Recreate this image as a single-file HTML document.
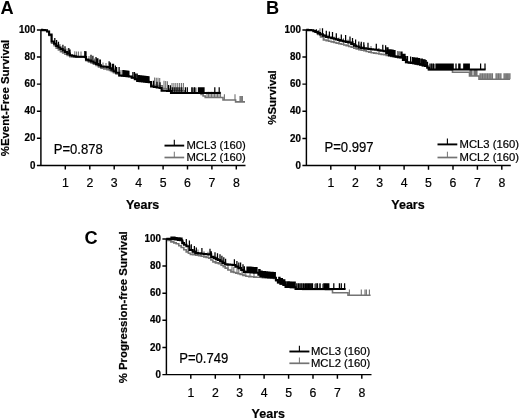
<!DOCTYPE html>
<html><head><meta charset="utf-8"><title>Figure</title>
<style>
html,body{margin:0;padding:0;background:#fff;}
svg{display:block;}
text{font-family:"Liberation Sans",sans-serif;fill:#000;stroke:#000;stroke-width:0.2px;}
.yt{font-size:9.8px;font-weight:bold;text-anchor:end;}
.xt{font-size:12.3px;text-anchor:middle;}
.yr{font-size:12.5px;font-weight:bold;text-anchor:middle;}
.yl{font-size:11.4px;font-weight:bold;text-anchor:middle;}
.pv{font-size:13.1px;}
.lg{font-size:11.1px;}
.pl{font-size:18.2px;font-weight:bold;stroke-width:0;}
</style></head><body>
<svg width="520" height="419" viewBox="0 0 520 419">
<rect width="520" height="419" fill="#fff"/>
<path d="M41.0,29.8 L42.2,29.8 L42.2,30.1 L44.8,30.1 L44.8,30.3 L46.0,30.3 L47.0,30.3 L47.0,31.5 L48.0,31.5 L49.1,31.5 L49.1,35.5 L50.3,35.5 L51.6,35.5 L51.6,43.3 L53.0,43.3 L54.1,43.3 L54.1,45.7 L56.2,45.7 L56.2,48.1 L57.3,48.1 L58.4,48.1 L58.4,49.9 L60.5,49.9 L60.5,51.6 L61.6,51.6 L62.7,51.6 L62.7,52.9 L64.9,52.9 L64.9,54.2 L66.0,54.2 L67.2,54.2 L67.2,55.5 L69.8,55.5 L69.8,56.8 L71.0,56.8 L72.0,56.8 L72.0,57.0 L74.2,57.0 L74.2,57.1 L76.2,57.1 L76.2,57.3 L77.3,57.3 L84.8,57.3 L84.8,57.5 L86.0,57.5 L86.0,60.8 L87.3,60.8 L88.5,60.8 L88.5,61.9 L91.0,61.9 L91.0,63.0 L92.3,63.0 L93.5,63.0 L93.5,64.2 L96.0,64.2 L96.0,65.5 L97.3,65.5 L98.5,65.5 L98.5,66.9 L101.0,66.9 L101.0,68.3 L102.3,68.3 L103.8,68.3 L103.8,68.9 L107.0,68.9 L107.0,69.6 L108.5,69.6 L109.5,69.6 L109.5,70.5 L111.3,70.5 L111.3,71.5 L112.3,71.5 L113.5,71.5 L113.5,72.8 L116.0,72.8 L116.0,74.0 L117.3,74.0 L119.2,74.0 L119.2,75.8 L121.0,75.8 L122.1,75.8 L122.1,76.0 L124.3,76.0 L124.3,76.2 L126.5,76.2 L126.5,76.3 L128.7,76.3 L128.7,76.5 L129.8,76.5 L131.7,76.5 L131.7,77.8 L133.5,77.8 L134.8,77.8 L134.8,79.2 L137.2,79.2 L137.2,80.5 L138.5,80.5 L139.6,80.5 L139.6,80.8 L141.9,80.8 L141.9,81.1 L144.2,81.1 L144.2,81.5 L146.4,81.5 L146.4,81.8 L148.7,81.8 L148.7,82.1 L149.8,82.1 L151.1,82.1 L151.1,85.2 L152.3,85.2 L153.5,85.2 L153.5,85.3 L155.8,85.3 L155.8,85.5 L158.1,85.5 L158.1,85.7 L160.3,85.7 L160.3,85.8 L161.5,85.8 L162.2,85.8 L162.2,88.5 L163.0,88.5 L164.4,88.5 L164.4,88.8 L167.1,88.8 L167.1,89.0 L168.5,89.0 L169.8,89.0 L169.8,90.7 L171.0,90.7 L183.5,90.7 L183.5,90.9 L184.2,90.9 L184.2,93.2 L185.0,93.2 L200.0,93.2 L200.0,93.3 L201.0,93.3 L201.0,94.4 L202.0,94.4 L203.1,94.4 L203.1,96.0 L205.2,96.0 L205.2,97.5 L206.3,97.5 L222.5,97.5 L222.5,97.5 L223.0,97.5 L223.0,100.0 L235.0,100.0 L235.0,100.0 L235.6,100.0 L235.6,101.9 L245.0,101.9 L245.0,101.9" fill="none" stroke="#737373" stroke-width="1.6"/>
<path d="M60.0,49.9V44.1M67.0,54.2V48.4M74.8,57.1V51.3M76.6,57.3V51.5M78.5,57.3V51.5M81.0,57.3V51.5M89.0,61.9V56.1M94.5,64.2V58.5M103.0,68.3V62.5M106.0,68.9V63.1M121.0,75.8V70.0M191.6,93.2V87.4M192.7,93.2V87.4M193.8,93.2V87.4M194.9,93.2V87.4M196.0,93.2V87.4M207.0,97.5V91.7M208.5,97.5V91.7M210.0,97.5V91.7M211.5,97.5V91.7M213.0,97.5V91.7M214.5,97.5V91.7M216.0,97.5V91.7M217.5,97.5V91.7M219.0,97.5V91.7M220.5,97.5V91.7M224.4,100.0V94.2M235.0,100.0V94.2M240.0,101.9V96.1M241.2,101.9V96.1M242.4,101.9V96.1M154.6,85.3V77.5M156.3,85.5V77.7M158.0,85.5V77.7M159.7,85.7V77.9M164.0,88.5V80.7M165.7,88.8V81.0M167.4,89.0V81.2M172.0,90.7V82.9M173.9,90.7V82.9M175.8,90.7V82.9M177.7,90.7V82.9M179.6,90.7V82.9M181.5,90.7V82.9M183.4,90.7V82.9" stroke="#737373" stroke-width="1.1" fill="none"/>
<path d="M41.0,29.8 L42.2,29.8 L42.2,30.1 L44.8,30.1 L44.8,30.3 L46.0,30.3 L47.0,30.3 L47.0,31.5 L48.0,31.5 L49.1,31.5 L49.1,34.6 L50.3,34.6 L51.6,34.6 L51.6,41.5 L53.0,41.5 L54.1,41.5 L54.1,43.7 L56.2,43.7 L56.2,45.9 L57.3,45.9 L58.4,45.9 L58.4,47.5 L60.5,47.5 L60.5,49.0 L61.6,49.0 L62.7,49.0 L62.7,50.5 L64.9,50.5 L64.9,52.0 L66.0,52.0 L67.2,52.0 L67.2,53.6 L69.8,53.6 L69.8,55.3 L71.0,55.3 L72.0,55.3 L72.0,55.8 L74.2,55.8 L74.2,56.3 L76.2,56.3 L76.2,56.8 L77.3,56.8 L84.8,56.8 L84.8,57.0 L86.0,57.0 L86.0,59.6 L87.3,59.6 L88.5,59.6 L88.5,60.5 L91.0,60.5 L91.0,61.5 L92.3,61.5 L93.5,61.5 L93.5,62.8 L96.0,62.8 L96.0,64.0 L97.3,64.0 L98.5,64.0 L98.5,65.2 L101.0,65.2 L101.0,66.5 L102.3,66.5 L103.8,66.5 L103.8,66.8 L107.0,66.8 L107.0,67.1 L108.5,67.1 L109.5,67.1 L109.5,68.3 L111.3,68.3 L111.3,69.6 L112.3,69.6 L113.5,69.6 L113.5,71.2 L116.0,71.2 L116.0,72.8 L117.3,72.8 L119.2,72.8 L119.2,75.5 L121.0,75.5 L122.1,75.5 L122.1,75.8 L124.3,75.8 L124.3,76.0 L126.5,76.0 L126.5,76.2 L128.7,76.2 L128.7,76.5 L129.8,76.5 L131.7,76.5 L131.7,77.8 L133.5,77.8 L134.8,77.8 L134.8,79.3 L137.2,79.3 L137.2,80.9 L138.5,80.9 L139.6,80.9 L139.6,81.1 L141.9,81.1 L141.9,81.4 L144.2,81.4 L144.2,81.6 L146.4,81.6 L146.4,81.9 L148.7,81.9 L148.7,82.1 L149.8,82.1 L151.1,82.1 L151.1,86.5 L152.3,86.5 L153.8,86.5 L153.8,87.0 L156.7,87.0 L156.7,87.5 L159.6,87.5 L159.6,88.0 L161.0,88.0 L161.6,88.0 L161.6,90.6 L162.7,90.6 L162.7,90.7 L164.9,90.7 L164.9,90.8 L167.1,90.8 L167.1,90.9 L169.3,90.9 L169.3,91.0 L170.4,91.0 L171.0,91.0 L171.0,93.0 L220.6,93.0 L220.6,93.0" fill="none" stroke="#000" stroke-width="2.1"/>
<path d="M54.8,43.7V37.9M56.6,45.9V40.1M58.5,47.5V41.7M62.9,50.5V44.7M65.0,52.0V46.2M68.8,53.6V47.9M70.0,55.3V49.5M84.8,56.8V51.0M86.0,57.0V51.2M91.0,60.5V54.8M92.9,61.5V55.7M96.0,62.8V57.0M97.9,64.0V58.2M99.8,65.2V59.5M97.3,64.0V58.2M100.4,65.2V59.5M109.1,67.1V61.3M110.4,68.3V62.5M112.3,69.6V63.8M113.5,69.6V63.8M115.4,71.2V65.4M116.6,72.8V67.0M119.1,72.8V67.0M122.9,75.8V70.0M123.9,75.8V70.0M124.9,76.0V70.2M125.9,76.0V70.2M126.9,76.2V70.5M127.9,76.2V70.5M128.9,76.5V70.7M132.9,77.8V72.0M134.5,77.8V72.0M135.8,79.3V73.5M137.2,79.3V73.5M138.5,80.9V75.1M139.6,80.9V75.1M140.6,81.1V75.3M141.7,81.1V75.3M142.7,81.4V75.6M143.8,81.4V75.6M144.8,81.6V75.8M145.8,81.6V75.8M146.9,81.9V76.1M147.9,81.9V76.1M149.0,82.1V76.3M153.5,86.5V80.7M157.0,87.5V81.7M160.0,88.0V82.2M168.5,90.9V85.1M170.4,91.0V85.2M172.3,93.0V87.2M174.2,93.0V87.2M176.1,93.0V87.2M178.0,93.0V87.2M179.9,93.0V87.2M181.8,93.0V87.2M185.4,93.0V87.2M187.3,93.0V87.2M192.0,93.0V87.2M194.5,93.0V87.2M198.5,93.0V87.2M199.6,93.0V87.2M200.7,93.0V87.2M201.8,93.0V87.2M202.9,93.0V87.2M204.0,93.0V87.2M214.8,93.0V87.2M219.2,93.0V87.2" stroke="#000" stroke-width="1.25" fill="none"/>
<path d="M40.9,29.3V165.4M36.9,165.4H245.5M36.9,138.3H40.9M36.9,111.2H40.9M36.9,84.1H40.9M36.9,57.0H40.9M36.9,29.9H40.9M65.3,165.4V169.6M89.8,165.4V169.6M114.2,165.4V169.6M138.6,165.4V169.6M163.1,165.4V169.6M187.5,165.4V169.6M211.9,165.4V169.6M236.3,165.4V169.6" stroke="#000" stroke-width="1.45" fill="none"/>
<text transform="translate(35.4,168.5) scale(1.000,1.060)" class="yt">0</text>
<text transform="translate(35.4,141.4) scale(1.000,1.060)" class="yt">20</text>
<text transform="translate(35.4,114.3) scale(1.000,1.060)" class="yt">40</text>
<text transform="translate(35.4,87.2) scale(1.000,1.060)" class="yt">60</text>
<text transform="translate(35.4,60.1) scale(1.000,1.060)" class="yt">80</text>
<text transform="translate(35.4,33.0) scale(1.000,1.060)" class="yt">100</text>
<text transform="translate(65.3,186.9) scale(1.000,1.060)" class="xt">1</text>
<text transform="translate(89.8,186.9) scale(1.000,1.060)" class="xt">2</text>
<text transform="translate(114.2,186.9) scale(1.000,1.060)" class="xt">3</text>
<text transform="translate(138.6,186.9) scale(1.000,1.060)" class="xt">4</text>
<text transform="translate(163.1,186.9) scale(1.000,1.060)" class="xt">5</text>
<text transform="translate(187.5,186.9) scale(1.000,1.060)" class="xt">6</text>
<text transform="translate(211.9,186.9) scale(1.000,1.060)" class="xt">7</text>
<text transform="translate(236.3,186.9) scale(1.000,1.060)" class="xt">8</text>
<text transform="translate(142.6,209.3) scale(1.000,1.060)" class="yr">Years</text>
<path d="M164.5,145.6H184.2" stroke="#000" stroke-width="1.9" fill="none"/>
<path d="M174.3,145.6V139.8" stroke="#000" stroke-width="1.1" fill="none"/>
<path d="M164.5,157.5H184.2" stroke="#737373" stroke-width="1.7" fill="none"/>
<path d="M174.3,157.5V151.7" stroke="#737373" stroke-width="1.0" fill="none"/>
<text transform="translate(186.4,149.1) scale(1.015,1.060)" class="lg">MCL3 (160)</text>
<text transform="translate(186.4,161.0) scale(1.015,1.060)" class="lg">MCL2 (160)</text>
<text transform="translate(53.7,153.7) scale(1.000,1.060)" class="pv">P=0.878</text>
<text transform="translate(9.4,98.0) rotate(-90) scale(1.000,1.000)" class="yl">%Event-Free Survival</text>
<text transform="translate(0.5,13.5) scale(1.000,1.000)" class="pl">A</text>
<path d="M306.3,29.8 L307.9,29.8 L307.9,30.1 L310.9,30.1 L310.9,30.3 L312.5,30.3 L313.4,30.3 L313.4,31.1 L315.4,31.1 L315.4,31.9 L316.3,31.9 L317.7,31.9 L317.7,34.4 L320.5,34.4 L320.5,36.9 L321.9,36.9 L323.4,36.9 L323.4,40.0 L325.0,40.0 L326.2,40.0 L326.2,40.6 L328.8,40.6 L328.8,41.3 L331.2,41.3 L331.2,41.9 L332.5,41.9 L333.8,41.9 L333.8,42.5 L336.2,42.5 L336.2,43.1 L338.8,43.1 L338.8,43.7 L340.0,43.7 L341.2,43.7 L341.2,44.3 L343.8,44.3 L343.8,45.0 L346.2,45.0 L346.2,45.6 L347.5,45.6 L348.8,45.6 L348.8,46.5 L351.2,46.5 L351.2,47.3 L353.8,47.3 L353.8,48.2 L355.0,48.2 L356.2,48.2 L356.2,48.9 L358.8,48.9 L358.8,49.6 L360.0,49.6 L361.2,49.6 L361.2,50.2 L363.8,50.2 L363.8,50.8 L366.2,50.8 L366.2,51.5 L368.8,51.5 L368.8,52.1 L371.2,52.1 L371.2,52.7 L372.5,52.7 L373.8,52.7 L373.8,53.1 L376.2,53.1 L376.2,53.5 L378.8,53.5 L378.8,54.0 L381.2,54.0 L381.2,54.4 L383.8,54.4 L383.8,54.8 L385.0,54.8 L386.2,54.8 L386.2,55.4 L388.8,55.4 L388.8,56.0 L390.0,56.0 L391.1,56.0 L391.1,56.4 L393.4,56.4 L393.4,56.7 L395.6,56.7 L395.6,57.1 L397.9,57.1 L397.9,57.4 L400.2,57.4 L400.2,57.8 L401.3,57.8 L402.9,57.8 L402.9,60.1 L405.9,60.1 L405.9,62.4 L407.5,62.4 L408.6,62.4 L408.6,62.8 L410.9,62.8 L410.9,63.2 L413.1,63.2 L413.1,63.5 L415.4,63.5 L415.4,63.9 L417.7,63.9 L417.7,64.3 L418.8,64.3 L420.1,64.3 L420.1,65.0 L422.6,65.0 L422.6,65.6 L425.1,65.6 L425.1,66.3 L426.3,66.3 L428.1,66.3 L428.1,69.8 L430.0,69.8 L451.5,69.8 L451.5,70.0 L452.5,70.0 L452.5,72.2 L468.8,72.2 L468.8,72.2 L469.5,72.2 L469.5,76.0 L478.0,76.0 L478.0,76.0 L479.0,76.0 L479.0,79.3 L510.0,79.3 L510.0,79.3" fill="none" stroke="#737373" stroke-width="1.6"/>
<path d="M320.0,34.4V28.3M324.0,40.0V33.9M328.0,40.6V34.5M334.0,42.5V36.4M339.0,43.7V37.6M343.5,44.3V38.2M348.0,45.6V39.5M353.5,47.3V41.2M360.6,49.6V43.5M364.4,50.8V44.7M371.0,52.1V46.0M379.0,54.0V47.9M397.5,57.1V51.0M398.6,57.4V51.3M399.7,57.4V51.3M421.0,65.0V58.9M422.3,65.0V58.9M423.6,65.6V59.5M424.9,65.6V59.5M431.0,69.8V63.7M432.7,69.8V63.7M434.4,69.8V63.7M470.0,76.0V69.9M471.0,76.0V69.9M472.0,76.0V69.9M474.0,76.0V69.9M475.0,76.0V69.9M476.0,76.0V69.9M477.0,76.0V69.9M480.0,79.3V73.2M481.2,79.3V73.2M482.5,79.3V73.2M483.8,79.3V73.2M485.0,79.3V73.2M486.2,79.3V73.2M487.5,79.3V73.2M488.8,79.3V73.2M490.0,79.3V73.2M491.2,79.3V73.2M492.5,79.3V73.2M496.0,79.3V73.2M497.2,79.3V73.2M498.5,79.3V73.2M499.8,79.3V73.2M501.0,79.3V73.2M504.0,79.3V73.2M505.2,79.3V73.2M506.4,79.3V73.2M507.6,79.3V73.2M508.8,79.3V73.2M510.0,79.3V73.2" stroke="#737373" stroke-width="1.1" fill="none"/>
<path d="M306.3,29.8 L307.9,29.8 L307.9,30.1 L310.9,30.1 L310.9,30.3 L312.5,30.3 L313.4,30.3 L313.4,31.1 L315.4,31.1 L315.4,31.9 L316.3,31.9 L317.6,31.9 L317.6,33.1 L320.1,33.1 L320.1,34.4 L321.3,34.4 L322.9,34.4 L322.9,35.6 L325.9,35.6 L325.9,36.9 L327.5,36.9 L328.8,36.9 L328.8,37.5 L331.2,37.5 L331.2,38.2 L333.8,38.2 L333.8,38.8 L335.0,38.8 L336.1,38.8 L336.1,39.4 L338.1,39.4 L338.1,40.0 L340.2,40.0 L340.2,40.6 L341.3,40.6 L342.8,40.6 L342.8,41.2 L345.6,41.2 L345.6,41.9 L348.6,41.9 L348.6,42.5 L350.0,42.5 L351.2,42.5 L351.2,44.0 L353.8,44.0 L353.8,45.6 L355.0,45.6 L356.2,45.6 L356.2,46.5 L358.8,46.5 L358.8,47.5 L360.0,47.5 L361.2,47.5 L361.2,47.9 L363.8,47.9 L363.8,48.4 L366.2,48.4 L366.2,48.8 L367.5,48.8 L368.6,48.8 L368.6,49.0 L370.8,49.0 L370.8,49.3 L373.0,49.3 L373.0,49.5 L375.2,49.5 L375.2,49.8 L376.3,49.8 L377.8,49.8 L377.8,50.3 L380.6,50.3 L380.6,50.8 L383.6,50.8 L383.6,51.3 L385.0,51.3 L386.2,51.3 L386.2,53.3 L388.8,53.3 L388.8,55.3 L390.0,55.3 L391.1,55.3 L391.1,55.7 L393.4,55.7 L393.4,56.2 L395.6,56.2 L395.6,56.6 L397.9,56.6 L397.9,57.1 L400.2,57.1 L400.2,57.5 L401.3,57.5 L402.9,57.5 L402.9,59.9 L405.9,59.9 L405.9,62.2 L407.5,62.2 L408.6,62.2 L408.6,62.6 L410.9,62.6 L410.9,63.0 L413.1,63.0 L413.1,63.3 L415.4,63.3 L415.4,63.7 L417.7,63.7 L417.7,64.1 L418.8,64.1 L420.1,64.1 L420.1,64.7 L422.6,64.7 L422.6,65.4 L425.1,65.4 L425.1,66.0 L426.3,66.0 L427.2,66.0 L427.2,67.8 L428.2,67.8 L429.1,67.8 L429.1,69.5 L430.0,69.5 L485.6,69.5 L485.6,69.5" fill="none" stroke="#000" stroke-width="2.1"/>
<path d="M322.5,34.4V28.3M326.3,36.9V30.8M329.4,37.5V31.4M332.5,38.2V32.1M336.3,39.4V33.3M341.3,40.6V34.5M345.6,41.2V35.1M350.0,42.5V36.4M352.5,44.0V37.9M355.6,45.6V39.5M358.8,47.5V41.4M361.3,47.9V41.8M363.8,48.4V42.3M368.0,48.8V42.7M376.3,49.8V43.7M382.8,50.8V44.7M385.6,51.3V45.2M387.0,53.3V47.2M388.0,53.3V47.2M389.0,55.3V49.2M390.0,55.3V49.2M391.0,55.3V49.2M392.0,55.7V49.6M393.0,55.7V49.6M394.0,56.2V50.1M395.0,56.2V50.1M401.0,57.5V51.4M402.0,57.5V51.4M403.0,59.9V53.8M404.0,59.9V53.8M405.0,59.9V53.8M406.0,62.2V56.1M407.5,62.2V56.1M410.6,62.6V56.5M412.5,63.0V56.9M413.5,63.3V57.2M414.5,63.3V57.2M415.5,63.7V57.6M416.5,63.7V57.6M417.5,63.7V57.6M418.5,64.1V58.0M419.5,64.1V58.0M421.0,64.7V58.6M422.3,64.7V58.6M423.6,65.4V59.3M424.9,65.4V59.3M426.2,66.0V59.9M427.5,67.8V61.7M430.0,69.5V63.4M431.7,69.5V63.4M433.4,69.5V63.4M436.0,69.5V63.4M437.1,69.5V63.4M438.3,69.5V63.4M439.4,69.5V63.4M440.6,69.5V63.4M441.8,69.5V63.4M442.9,69.5V63.4M444.1,69.5V63.4M445.2,69.5V63.4M446.4,69.5V63.4M447.5,69.5V63.4M448.6,69.5V63.4M449.8,69.5V63.4M450.9,69.5V63.4M452.1,69.5V63.4M453.2,69.5V63.4M456.0,69.5V63.4M458.8,69.5V63.4M460.0,69.5V63.4M463.8,69.5V63.4M464.9,69.5V63.4M466.0,69.5V63.4M467.1,69.5V63.4M468.2,69.5V63.4M469.3,69.5V63.4M480.6,69.5V63.4M485.0,69.5V63.4M316.3,31.9V29.3M318.8,33.1V30.5" stroke="#000" stroke-width="1.25" fill="none"/>
<path d="M306.4,29.3V165.5M302.4,165.5H510.8M302.4,138.4H306.4M302.4,111.3H306.4M302.4,84.1H306.4M302.4,57.0H306.4M302.4,29.9H306.4M330.8,165.5V169.7M355.3,165.5V169.7M379.7,165.5V169.7M404.1,165.5V169.7M428.5,165.5V169.7M453.0,165.5V169.7M477.4,165.5V169.7M501.8,165.5V169.7" stroke="#000" stroke-width="1.45" fill="none"/>
<text transform="translate(300.9,168.6) scale(1.000,1.060)" class="yt">0</text>
<text transform="translate(300.9,141.5) scale(1.000,1.060)" class="yt">20</text>
<text transform="translate(300.9,114.4) scale(1.000,1.060)" class="yt">40</text>
<text transform="translate(300.9,87.2) scale(1.000,1.060)" class="yt">60</text>
<text transform="translate(300.9,60.1) scale(1.000,1.060)" class="yt">80</text>
<text transform="translate(300.9,33.0) scale(1.000,1.060)" class="yt">100</text>
<text transform="translate(330.8,187.0) scale(1.000,1.060)" class="xt">1</text>
<text transform="translate(355.3,187.0) scale(1.000,1.060)" class="xt">2</text>
<text transform="translate(379.7,187.0) scale(1.000,1.060)" class="xt">3</text>
<text transform="translate(404.1,187.0) scale(1.000,1.060)" class="xt">4</text>
<text transform="translate(428.5,187.0) scale(1.000,1.060)" class="xt">5</text>
<text transform="translate(453.0,187.0) scale(1.000,1.060)" class="xt">6</text>
<text transform="translate(477.4,187.0) scale(1.000,1.060)" class="xt">7</text>
<text transform="translate(501.8,187.0) scale(1.000,1.060)" class="xt">8</text>
<text transform="translate(408.0,209.4) scale(1.000,1.060)" class="yr">Years</text>
<path d="M437.5,144.4H457.3" stroke="#000" stroke-width="1.9" fill="none"/>
<path d="M447.4,144.4V138.6" stroke="#000" stroke-width="1.1" fill="none"/>
<path d="M437.5,157.5H457.3" stroke="#737373" stroke-width="1.7" fill="none"/>
<path d="M447.4,157.5V151.7" stroke="#737373" stroke-width="1.0" fill="none"/>
<text transform="translate(459.6,148.1) scale(1.015,1.060)" class="lg">MCL3 (160)</text>
<text transform="translate(459.6,161.0) scale(1.015,1.060)" class="lg">MCL2 (160)</text>
<text transform="translate(324.5,152.0) scale(1.000,1.060)" class="pv">P=0.997</text>
<text transform="translate(275.6,97.5) rotate(-90) scale(1.000,1.000)" class="yl">%Survival</text>
<text transform="translate(266.0,14.2) scale(1.000,1.000)" class="pl">B</text>
<path d="M166.3,238.8 L167.9,238.8 L167.9,240.4 L170.9,240.4 L170.9,241.9 L172.5,241.9 L173.8,241.9 L173.8,242.9 L176.2,242.9 L176.2,243.8 L177.5,243.8 L178.8,243.8 L178.8,245.7 L181.2,245.7 L181.2,247.5 L182.5,247.5 L183.8,247.5 L183.8,249.7 L186.2,249.7 L186.2,251.9 L187.5,251.9 L188.4,251.9 L188.4,253.2 L190.4,253.2 L190.4,254.4 L191.3,254.4 L192.8,254.4 L192.8,254.8 L195.7,254.8 L195.7,255.2 L198.6,255.2 L198.6,255.6 L200.0,255.6 L201.2,255.6 L201.2,256.2 L203.8,256.2 L203.8,256.9 L206.2,256.9 L206.2,257.5 L208.8,257.5 L208.8,258.1 L210.0,258.1 L210.9,258.1 L210.9,260.0 L212.9,260.0 L212.9,261.9 L213.8,261.9 L215.4,261.9 L215.4,262.9 L218.4,262.9 L218.4,263.8 L220.0,263.8 L221.1,263.8 L221.1,265.2 L223.2,265.2 L223.2,266.7 L225.2,266.7 L225.2,268.1 L226.3,268.1 L227.9,268.1 L227.9,270.0 L230.9,270.0 L230.9,271.9 L232.5,271.9 L233.6,271.9 L233.6,272.5 L235.8,272.5 L235.8,273.1 L238.0,273.1 L238.0,273.8 L240.2,273.8 L240.2,274.4 L241.3,274.4 L242.9,274.4 L242.9,275.4 L245.9,275.4 L245.9,276.3 L247.5,276.3 L248.8,276.3 L248.8,276.6 L251.2,276.6 L251.2,276.8 L253.8,276.8 L253.8,277.1 L256.2,277.1 L256.2,277.3 L257.5,277.3 L261.3,277.3 L261.3,277.5 L262.7,277.5 L262.7,277.7 L265.4,277.7 L265.4,277.9 L268.1,277.9 L268.1,278.1 L270.9,278.1 L270.9,278.3 L273.6,278.3 L273.6,278.5 L275.0,278.5 L275.9,278.5 L275.9,280.6 L277.9,280.6 L277.9,282.8 L278.8,282.8 L280.4,282.8 L280.4,284.1 L283.4,284.1 L283.4,285.3 L285.0,285.3 L285.6,285.3 L285.6,287.2 L286.3,287.2 L287.8,287.2 L287.8,287.3 L290.6,287.3 L290.6,287.5 L293.6,287.5 L293.6,287.6 L295.0,287.6 L295.6,287.6 L295.6,289.3 L296.3,289.3 L297.6,289.3 L297.6,289.3 L300.1,289.3 L300.1,289.3 L302.7,289.3 L302.7,289.4 L305.2,289.4 L305.2,289.4 L307.7,289.4 L307.7,289.4 L310.3,289.4 L310.3,289.4 L312.8,289.4 L312.8,289.5 L315.4,289.5 L315.4,289.5 L317.9,289.5 L317.9,289.5 L320.5,289.5 L320.5,289.5 L323.0,289.5 L323.0,289.5 L325.5,289.5 L325.5,289.6 L328.1,289.6 L328.1,289.6 L330.6,289.6 L330.6,289.6 L331.9,289.6 L332.5,289.6 L332.5,292.7 L347.5,292.7 L347.5,292.7 L348.0,292.7 L348.0,295.3 L370.6,295.3 L370.6,295.3" fill="none" stroke="#737373" stroke-width="1.6"/>
<path d="M188.0,251.9V246.2M193.0,254.8V249.1M198.0,255.2V249.5M204.0,256.9V251.2M208.0,257.5V251.8M216.0,262.9V257.2M222.0,265.2V259.5M228.0,270.0V264.3M232.0,271.9V266.2M233.8,272.5V266.8M237.0,273.1V267.4M238.8,273.8V268.1M242.0,274.4V268.7M245.0,275.4V269.7M250.0,276.6V270.9M254.0,277.1V271.4M281.0,284.1V278.4M283.6,285.3V279.6M286.2,287.2V281.5M288.8,287.3V281.6M291.4,287.5V281.8M294.0,287.6V281.9M296.6,289.3V283.6M299.2,289.3V283.6M301.8,289.3V283.6M304.4,289.4V283.7M307.0,289.4V283.7M309.6,289.4V283.7M312.2,289.4V283.7M314.8,289.5V283.8M317.4,289.5V283.8M320.0,289.5V283.8M322.6,289.5V283.8M325.2,289.5V283.8M327.8,289.6V283.9M349.4,295.3V289.6M361.3,295.3V289.6M365.0,295.3V289.6M366.4,295.3V289.6M369.4,295.3V289.6" stroke="#737373" stroke-width="1.1" fill="none"/>
<path d="M166.3,238.8 L167.6,238.8 L167.6,238.9 L170.2,238.9 L170.2,239.1 L172.7,239.1 L172.7,239.2 L174.0,239.2 L175.2,239.2 L175.2,239.5 L177.8,239.5 L177.8,239.9 L180.2,239.9 L180.2,240.2 L181.5,240.2 L182.2,240.2 L182.2,243.1 L182.8,243.1 L184.0,243.1 L184.0,244.7 L186.4,244.7 L186.4,246.3 L187.6,246.3 L189.4,246.3 L189.4,250.0 L191.3,250.0 L192.6,250.0 L192.6,251.6 L195.2,251.6 L195.2,253.1 L196.5,253.1 L198.0,253.1 L198.0,253.4 L201.0,253.4 L201.0,253.8 L202.5,253.8 L203.8,253.8 L203.8,254.0 L206.2,254.0 L206.2,254.2 L208.8,254.2 L208.8,254.4 L210.0,254.4 L211.2,254.4 L211.2,256.9 L212.5,256.9 L213.6,256.9 L213.6,257.9 L215.7,257.9 L215.7,259.0 L217.8,259.0 L217.8,260.0 L218.8,260.0 L220.1,260.0 L220.1,261.5 L222.6,261.5 L222.6,262.9 L225.1,262.9 L225.1,264.4 L226.3,264.4 L227.6,264.4 L227.6,264.6 L230.1,264.6 L230.1,264.8 L232.6,264.8 L232.6,265.0 L233.8,265.0 L235.4,265.0 L235.4,266.6 L238.4,266.6 L238.4,268.1 L240.0,268.1 L241.2,268.1 L241.2,270.0 L243.8,270.0 L243.8,271.9 L245.0,271.9 L246.2,271.9 L246.2,272.1 L248.8,272.1 L248.8,272.3 L251.2,272.3 L251.2,272.4 L253.8,272.4 L253.8,272.6 L256.2,272.6 L256.2,272.8 L257.5,272.8 L258.4,272.8 L258.4,274.6 L260.4,274.6 L260.4,276.3 L261.3,276.3 L262.7,276.3 L262.7,276.6 L265.4,276.6 L265.4,276.9 L268.1,276.9 L268.1,277.2 L270.9,277.2 L270.9,277.5 L273.6,277.5 L273.6,277.8 L275.0,277.8 L275.9,277.8 L275.9,280.1 L277.9,280.1 L277.9,282.5 L278.8,282.5 L280.4,282.5 L280.4,283.8 L283.4,283.8 L283.4,285.0 L285.0,285.0 L285.6,285.0 L285.6,286.9 L286.3,286.9 L287.8,286.9 L287.8,287.0 L290.6,287.0 L290.6,287.2 L293.6,287.2 L293.6,287.3 L295.0,287.3 L295.6,287.3 L295.6,289.0 L296.3,289.0 L345.6,289.0 L345.6,289.0" fill="none" stroke="#000" stroke-width="2.1"/>
<path d="M186.3,244.7V239.0M189.4,246.3V240.6M191.3,250.0V244.3M194.4,251.6V245.9M196.3,253.1V247.4M201.9,253.8V248.1M210.0,254.4V248.7M211.3,256.9V251.2M215.0,257.9V252.2M217.5,259.0V253.3M220.0,260.0V254.3M221.9,261.5V255.8M223.8,262.9V257.2M225.6,264.4V258.7M234.4,265.0V259.3M236.9,266.6V260.9M238.8,268.1V262.4M240.6,268.1V262.4M243.0,270.0V264.3M244.4,271.9V266.2M247.0,272.1V266.4M248.0,272.1V266.4M249.0,272.3V266.6M250.0,272.3V266.6M251.0,272.3V266.6M252.0,272.4V266.7M253.0,272.4V266.7M254.0,272.6V266.9M255.0,272.6V266.9M256.0,272.6V266.9M257.0,272.8V267.1M258.8,274.6V268.9M260.0,274.6V268.9M261.0,276.3V270.6M262.1,276.3V270.6M263.2,276.6V270.9M264.3,276.6V270.9M265.4,276.6V270.9M266.5,276.9V271.2M267.6,276.9V271.2M268.7,277.2V271.5M269.8,277.2V271.5M270.9,277.5V271.8M272.0,277.5V271.8M273.1,277.5V271.8M274.2,277.8V272.1M275.3,277.8V272.1M278.8,282.5V276.8M280.0,282.5V276.8M281.2,283.8V278.1M282.4,283.8V278.1M283.6,285.0V279.3M284.8,285.0V279.3M286.0,286.9V281.2M287.5,286.9V281.2M288.6,287.0V281.3M289.7,287.0V281.3M290.8,287.2V281.5M291.9,287.2V281.5M293.0,287.2V281.5M294.1,287.3V281.6M295.2,287.3V281.6M297.0,289.0V283.3M298.6,289.0V283.3M300.2,289.0V283.3M301.8,289.0V283.3M303.4,289.0V283.3M305.0,289.0V283.3M306.0,289.0V283.3M307.3,289.0V283.3M308.6,289.0V283.3M309.9,289.0V283.3M311.2,289.0V283.3M312.5,289.0V283.3M316.0,289.0V283.3M317.5,289.0V283.3M320.0,289.0V283.3M323.8,289.0V283.3M324.8,289.0V283.3M325.8,289.0V283.3M326.8,289.0V283.3M327.8,289.0V283.3M328.8,289.0V283.3M333.8,289.0V283.3M339.4,289.0V283.3M341.3,289.0V283.3M344.6,289.0V283.3M171.0,239.1V236.5M172.0,239.1V236.5M173.0,239.2V236.6M174.0,239.2V236.6M175.0,239.2V236.6M176.0,239.5V236.9M177.0,239.5V236.9M178.0,239.9V237.3M179.0,239.9V237.3M180.0,239.9V237.3M181.0,240.2V237.6M182.0,240.2V237.6M183.0,243.1V240.5" stroke="#000" stroke-width="1.25" fill="none"/>
<path d="M166.4,238.3V374.6M162.4,374.6H371.5M162.4,347.5H166.4M162.4,320.3H166.4M162.4,293.2H166.4M162.4,266.0H166.4M162.4,238.9H166.4M190.8,374.6V378.8M215.3,374.6V378.8M239.7,374.6V378.8M264.1,374.6V378.8M288.6,374.6V378.8M313.0,374.6V378.8M337.4,374.6V378.8M361.8,374.6V378.8" stroke="#000" stroke-width="1.45" fill="none"/>
<text transform="translate(160.9,377.7) scale(1.000,1.060)" class="yt">0</text>
<text transform="translate(160.9,350.6) scale(1.000,1.060)" class="yt">20</text>
<text transform="translate(160.9,323.4) scale(1.000,1.060)" class="yt">40</text>
<text transform="translate(160.9,296.3) scale(1.000,1.060)" class="yt">60</text>
<text transform="translate(160.9,269.1) scale(1.000,1.060)" class="yt">80</text>
<text transform="translate(160.9,242.0) scale(1.000,1.060)" class="yt">100</text>
<text transform="translate(190.8,396.9) scale(1.000,1.060)" class="xt">1</text>
<text transform="translate(215.3,396.9) scale(1.000,1.060)" class="xt">2</text>
<text transform="translate(239.7,396.9) scale(1.000,1.060)" class="xt">3</text>
<text transform="translate(264.1,396.9) scale(1.000,1.060)" class="xt">4</text>
<text transform="translate(288.6,396.9) scale(1.000,1.060)" class="xt">5</text>
<text transform="translate(313.0,396.9) scale(1.000,1.060)" class="xt">6</text>
<text transform="translate(337.4,396.9) scale(1.000,1.060)" class="xt">7</text>
<text transform="translate(361.8,396.9) scale(1.000,1.060)" class="xt">8</text>
<text transform="translate(268.3,417.5) scale(1.000,1.060)" class="yr">Years</text>
<path d="M289.4,351.5H309.4" stroke="#000" stroke-width="1.9" fill="none"/>
<path d="M299.4,351.5V345.7" stroke="#000" stroke-width="1.1" fill="none"/>
<path d="M289.4,363.3H309.4" stroke="#737373" stroke-width="1.7" fill="none"/>
<path d="M299.4,363.3V357.5" stroke="#737373" stroke-width="1.0" fill="none"/>
<text transform="translate(310.9,355.1) scale(1.015,1.060)" class="lg">MCL3 (160)</text>
<text transform="translate(310.9,366.7) scale(1.015,1.060)" class="lg">MCL2 (160)</text>
<text transform="translate(179.2,362.9) scale(1.000,1.060)" class="pv">P=0.749</text>
<text transform="translate(127.2,307.3) rotate(-90) scale(1.000,1.000)" class="yl">% Progression-free Survival</text>
<text transform="translate(84.4,243.8) scale(1.000,1.000)" class="pl">C</text>
</svg>
</body></html>
